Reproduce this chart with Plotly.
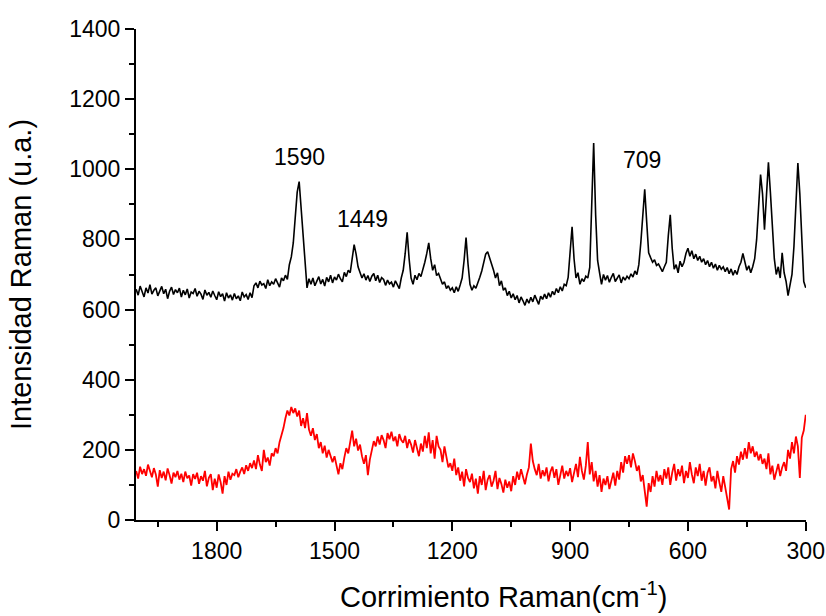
import numpy as np
import plotly.graph_objects as go

# Raman shift grid (cm-1), 5 cm-1 step from 2005 down to 300
shift = np.arange(2005, 299, -5)

# Upper spectrum (black)
intensity_black = [
    658, 641, 667, 650, 636, 662, 647, 671, 644, 655,
    662, 639, 653, 666, 645, 658, 631, 652, 664, 643,
    657, 648, 661, 636, 655, 642, 659, 633, 650, 646,
    660, 638, 652, 644, 629, 656, 641, 649, 635, 653,
    640, 628, 651, 637, 645, 624, 648, 633, 642, 627,
    646, 631, 639, 625, 650, 636, 643, 629, 648, 634,
    668, 676, 662, 681, 670, 674, 660, 685, 668, 679,
    672, 688, 676, 664, 690, 682, 698, 686, 728, 750,
    790, 870, 935, 965, 885, 808, 735, 662, 688, 672,
    690, 668, 681, 694, 673, 686, 667, 692, 679, 698,
    676, 693, 684, 701, 688, 679, 706, 694, 712, 705,
    745, 785, 758, 722, 706, 690, 702, 684, 697, 680,
    695, 703, 682, 698, 677, 691, 686, 669, 684, 673,
    678, 664, 682, 671, 660, 690, 712, 760, 820, 745,
    690, 672, 698, 685, 703, 694, 712, 735, 760, 790,
    745, 712, 728, 697, 703, 686, 672, 679, 660, 668,
    655, 662, 648, 665, 652, 670, 690, 740, 805, 730,
    672, 655, 668, 661, 680, 692, 710, 735, 758, 765,
    748, 735, 712, 690, 705, 668, 682, 655, 662, 640,
    652, 633, 645, 628, 640, 619, 636, 625, 612, 630,
    618, 635, 622, 641, 626, 615, 638, 629, 644, 631,
    648, 635, 652, 642, 660, 648, 665, 653, 672, 668,
    692, 760, 836, 745, 690, 705, 672, 688, 680, 695,
    690, 720, 880, 1075, 870, 740, 705, 672, 700, 684,
    697, 678, 692, 703, 680, 688, 699, 676, 693, 684,
    695, 688, 702, 693, 710, 700, 728, 790, 880, 943,
    850, 762, 748, 735, 742, 726, 730, 718, 708, 722,
    735, 810, 870, 775, 715, 728, 705, 738, 722, 735,
    760, 775, 752, 768, 745, 758, 740, 752, 735, 745,
    728, 740, 722, 735, 718, 730, 712, 726, 715, 722,
    708, 720, 702, 716, 698, 712, 700, 722, 735, 760,
    738, 712, 725, 705, 722, 745, 800, 880, 985, 930,
    828, 925, 1020, 935, 830, 745, 700, 722, 690, 762,
    705, 680, 640, 668, 700, 780, 900, 1018, 930, 790,
    680, 662,
]

# Lower spectrum (red)
intensity_red = [
    140, 118, 152, 131, 145, 126, 158, 137, 122, 148,
    130, 95, 142, 120, 138, 113, 147, 128, 104, 135,
    122, 140, 115, 132, 108, 138, 119, 127, 98, 131,
    117, 135, 103, 125, 112, 140, 96, 120, 131, 85,
    118, 92, 130, 108, 75, 125, 100, 138, 115, 132,
    128, 145, 122, 138, 150, 131, 156, 140, 162, 148,
    170, 145, 185, 158, 140, 200, 165, 178, 155, 190,
    182, 205, 190, 222, 240, 262, 290, 312, 298, 322,
    305, 318, 295, 312, 268, 290, 262, 305, 258, 240,
    262, 228, 245, 205, 222, 190, 212, 178, 200, 185,
    165, 182, 150, 130, 162, 145, 178, 205, 190, 225,
    255, 210, 232, 198, 215, 182, 160, 185, 128, 172,
    195, 225, 210, 238, 215, 242, 228, 205, 248, 230,
    252, 225, 238, 210, 245, 228, 220, 240, 205, 230,
    215, 192, 228, 200, 182, 218, 195, 240, 205, 250,
    190, 228, 175, 240, 210, 200, 165, 210, 182, 150,
    162, 140, 175, 128, 150, 112, 138, 96, 145, 120,
    108, 132, 90, 118, 75, 125, 100, 140, 85, 115,
    128, 95, 112, 140, 88, 120, 103, 78, 115, 92,
    110, 82, 125, 100, 138, 115, 145, 120, 102, 130,
    150, 218, 168, 145, 128, 160, 118, 142, 125, 150,
    110, 138, 152, 120, 145, 100, 130, 155, 118, 140,
    125, 148, 108, 135, 160, 122, 180, 140, 115, 155,
    222, 130, 165, 110, 140, 95, 128, 80, 118, 100,
    125, 88, 110, 135, 98, 140, 115, 165, 135, 182,
    160, 185, 150, 190, 168, 140, 155, 110, 128, 90,
    38, 105, 80, 125, 95, 140, 110, 128, 100, 145,
    118, 150, 100, 135, 160, 112, 145, 125, 155, 105,
    140, 120, 165, 130, 105, 150, 125, 160, 112, 140,
    98, 135, 150, 110, 125, 90, 140, 108, 80, 125,
    95, 70, 30, 145, 168, 135, 182, 158, 195, 172,
    205, 175, 222, 190, 210, 180, 195, 170, 188, 160,
    175, 145, 190, 130, 155, 115, 140, 160, 125, 150,
    165, 140, 200, 175, 222, 190, 238, 210, 120, 235,
    255, 300,
]

# Peak labels: text, x (cm-1), y (u.a.)
peak_text = ["1590", "1449", "709"]
peak_x = [1590, 1429, 716]
peak_y = [1036, 858, 1026]

FONT = "Liberation Sans, Arial, sans-serif"

fig = go.Figure()
fig.add_trace(go.Scatter(x=shift, y=intensity_black, mode="lines",
                         line=dict(color="#000000", width=1.6), showlegend=False))
fig.add_trace(go.Scatter(x=shift, y=intensity_red, mode="lines",
                         line=dict(color="#ff0000", width=1.8), showlegend=False))

for t, x, y in zip(peak_text, peak_x, peak_y):
    fig.add_annotation(x=x, y=y, text=t, showarrow=False,
                       font=dict(family=FONT, size=23, color="#000000"))

# x-axis title, placed slightly right of the plot centre
fig.add_annotation(
    xref="paper", yref="paper", x=0.548, y=-0.113, yanchor="top",
    text="Corrimiento Raman(cm<sup>-1</sup>)", showarrow=False,
    font=dict(family=FONT, size=29, color="#000000"),
)

axis_common = dict(
    showgrid=False, zeroline=False, showline=True, linecolor="#000000",
    linewidth=2, ticks="outside", ticklen=9, tickwidth=2, tickcolor="#000000",
    tickfont=dict(family=FONT, size=23, color="#000000"), automargin=False,
)

fig.update_xaxes(
    range=[2005.5, 299.3], tickvals=[1800, 1500, 1200, 900, 600, 300],
    minor=dict(tickvals=[1950, 1650, 1350, 1050, 750, 450], ticks="outside",
               ticklen=5, tickwidth=2, tickcolor="#000000"),
    **axis_common,
)
fig.update_yaxes(
    range=[0, 1400], tickvals=[0, 200, 400, 600, 800, 1000, 1200, 1400],
    minor=dict(tickvals=[100, 300, 500, 700, 900, 1100, 1300], ticks="outside",
               ticklen=5, tickwidth=2, tickcolor="#000000"),
    title=dict(text="Intensidad Raman (u.a.)",
               font=dict(family=FONT, size=29, color="#000000"), standoff=29),
    **axis_common,
)

fig.update_layout(
    width=826, height=616,
    margin=dict(l=136, r=20, t=29, b=96),
    plot_bgcolor="#ffffff", paper_bgcolor="#ffffff",
)

fig.write_html("out.html")
